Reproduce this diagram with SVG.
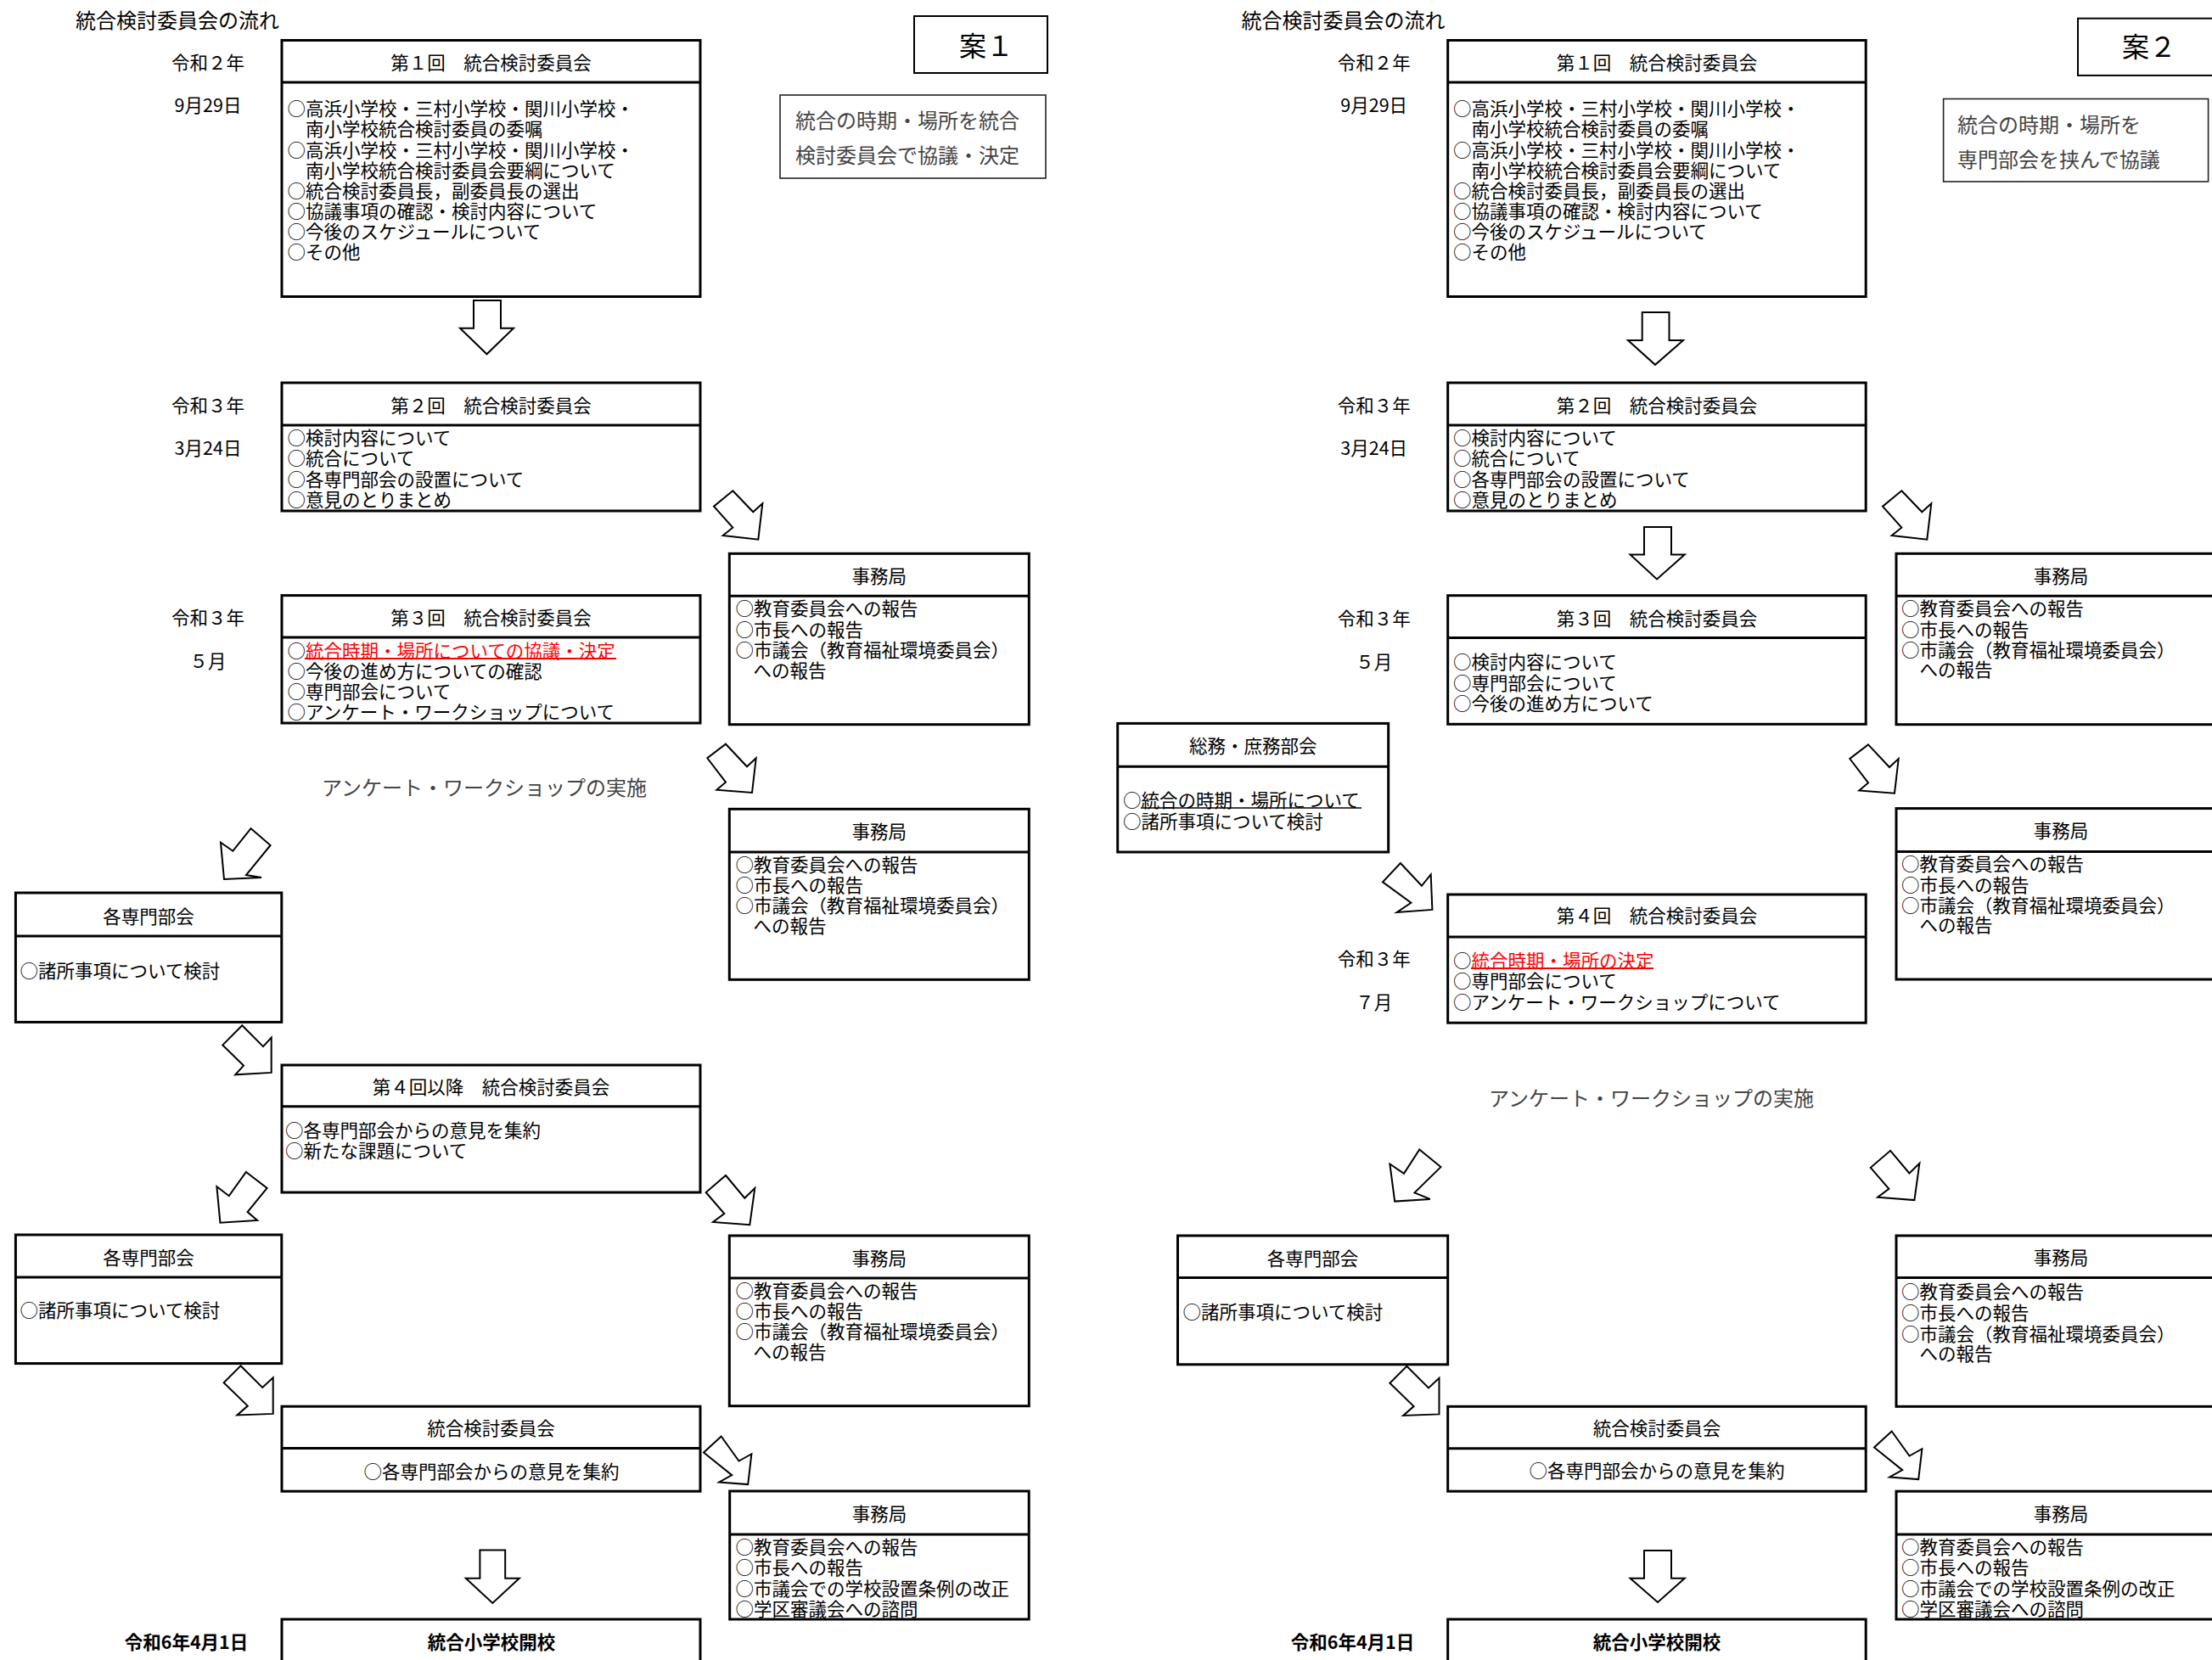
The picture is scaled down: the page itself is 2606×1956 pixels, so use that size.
<svg xmlns="http://www.w3.org/2000/svg" width="2606" height="1956" viewBox="0 0 2606 1956">
<style>
text{font-family:"Noto Sans CJK JP","Noto Sans CJK SC",sans-serif;dominant-baseline:central;fill:#000;font-size:21.5px}
tspan{dominant-baseline:central}
.bx{fill:#fff;stroke:#000;stroke-width:3}
.ln{stroke:#000;stroke-width:3}
.nb{fill:#fff;stroke:#222;stroke-width:1.6}
.ar{fill:#fff;stroke:#000;stroke-width:2;stroke-linejoin:miter}
.c{text-anchor:middle}
.ti{font-size:24px}
.g{font-size:24px;fill:#444}
.an{font-size:32px}
.b{font-weight:bold}
.r{fill:#f00}
.ur{stroke:#f00;stroke-width:2}
.uk{stroke:#000;stroke-width:1.6}
</style>
<rect x="0" y="0" width="2606" height="1956" fill="#fff"/>

<!-- ============ 案1 ============ -->
<g id="labels1">
<text class="ti" x="89" y="22">統合検討委員会の流れ</text>
<text class="c" x="245" y="72">令和２年</text>
<text class="c" x="245" y="122">9月29日</text>
<text class="c" x="245" y="476">令和３年</text>
<text class="c" x="245" y="526">3月24日</text>
<text class="c" x="245" y="726">令和３年</text>
<text class="c" x="245" y="777">５月</text>
<text class="g" x="379" y="926">アンケート・ワークショップの実施</text>
<text class="c b" x="219.5" y="1933">令和6年4月1日</text>
</g>
<g id="an1">
<rect x="1077" y="19" width="157" height="67" fill="#fff" stroke="#000" stroke-width="2"/>
<text class="an" x="1130" y="52">案１</text>
</g>
<g id="note1">
<rect class="nb" x="919" y="112" width="313" height="98"/>
<text class="g"><tspan x="937" y="140">統合の時期・場所を統合</tspan><tspan x="937" y="181">検討委員会で協議・決定</tspan></text>
</g>
<g id="c1-1">
<rect class="bx" x="332" y="47.5" width="493" height="302"/>
<line class="ln" x1="332" y1="97" x2="825" y2="97"/>
<text class="c" x="578.5" y="72">第１回　統合検討委員会</text>
<text><tspan x="338.5" y="125.7">○高浜小学校・三村小学校・関川小学校・</tspan><tspan x="360" y="149.5">南小学校統合検討委員の委嘱</tspan><tspan x="338.5" y="174.8">○高浜小学校・三村小学校・関川小学校・</tspan><tspan x="360" y="198.5">南小学校統合検討委員会要綱について</tspan><tspan x="338.5" y="222.6">○統合検討委員長，副委員長の選出</tspan><tspan x="338.5" y="246.7">○協議事項の確認・検討内容について</tspan><tspan x="338.5" y="271.2">○今後のスケジュールについて</tspan><tspan x="338.5" y="295">○その他</tspan></text>
</g>
<g id="c1-2">
<rect class="bx" x="332" y="451" width="493" height="151"/>
<line class="ln" x1="332" y1="501" x2="825" y2="501"/>
<text class="c" x="578.5" y="476">第２回　統合検討委員会</text>
<text><tspan x="338.5" y="514">○検討内容について</tspan><tspan x="338.5" y="538">○統合について</tspan><tspan x="338.5" y="563">○各専門部会の設置について</tspan><tspan x="338.5" y="587">○意見のとりまとめ</tspan></text>
</g>
<g id="c1-3">
<rect class="bx" x="332" y="701.6" width="493" height="150.4"/>
<line class="ln" x1="332" y1="751" x2="825" y2="751"/>
<text class="c" x="578.5" y="726">第３回　統合検討委員会</text>
<text><tspan x="338.5" y="764.6">○</tspan><tspan class="r">統合時期・場所についての協議・決定</tspan><tspan x="338.5" y="788.8">○今後の進め方についての確認</tspan><tspan x="338.5" y="813">○専門部会について</tspan><tspan x="338.5" y="837">○アンケート・ワークショップについて</tspan></text>
<line class="ur" x1="359" y1="776" x2="726" y2="776"/>
</g>
<g id="j1-1">
<rect class="bx" x="859.3" y="652.3" width="353" height="201.4"/>
<line class="ln" x1="859.3" y1="702.3" x2="1212.3" y2="702.3"/>
<text class="c" x="1035.8" y="677.3">事務局</text>
<text><tspan x="866.5" y="715">○教育委員会への報告</tspan><tspan x="866.5" y="740">○市長への報告</tspan><tspan x="866.5" y="764">○市議会（教育福祉環境委員会）</tspan><tspan x="887.5" y="788.3">への報告</tspan></text>
</g>
<g id="j1-2">
<rect class="bx" x="859.3" y="953.3" width="353" height="201"/>
<line class="ln" x1="859.3" y1="1004" x2="1212.3" y2="1004"/>
<text class="c" x="1035.8" y="978.3">事務局</text>
<text><tspan x="866.5" y="1016.7">○教育委員会への報告</tspan><tspan x="866.5" y="1040.5">○市長への報告</tspan><tspan x="866.5" y="1064.5">○市議会（教育福祉環境委員会）</tspan><tspan x="887.5" y="1088.5">への報告</tspan></text>
</g>
<g id="s1-1">
<rect class="bx" x="18.4" y="1052" width="313.4" height="152.4"/>
<line class="ln" x1="18.4" y1="1103" x2="331.8" y2="1103"/>
<text class="c" x="175" y="1078.5">各専門部会</text>
<text x="23.5" y="1142">○諸所事項について検討</text>
</g>
<g id="c1-4">
<rect class="bx" x="332" y="1255" width="493" height="150"/>
<line class="ln" x1="332" y1="1303.7" x2="825" y2="1303.7"/>
<text class="c" x="578.5" y="1279">第４回以降　統合検討委員会</text>
<text><tspan x="336" y="1330.3">○各専門部会からの意見を集約</tspan><tspan x="336" y="1353.5">○新たな課題について</tspan></text>
</g>
<g id="s1-2">
<rect class="bx" x="18.4" y="1455" width="313.4" height="151.6"/>
<line class="ln" x1="18.4" y1="1505" x2="331.8" y2="1505"/>
<text class="c" x="175" y="1480.5">各専門部会</text>
<text x="23.5" y="1542">○諸所事項について検討</text>
</g>
<g id="j1-3">
<rect class="bx" x="859.3" y="1456" width="353" height="200.7"/>
<line class="ln" x1="859.3" y1="1506" x2="1212.3" y2="1506"/>
<text class="c" x="1035.8" y="1481.7">事務局</text>
<text><tspan x="866.5" y="1519.3">○教育委員会への報告</tspan><tspan x="866.5" y="1543.3">○市長への報告</tspan><tspan x="866.5" y="1567.3">○市議会（教育福祉環境委員会）</tspan><tspan x="887.5" y="1591.3">への報告</tspan></text>
</g>
<g id="c1-5">
<rect class="bx" x="332" y="1657.2" width="493" height="100"/>
<line class="ln" x1="332" y1="1706.5" x2="825" y2="1706.5"/>
<text class="c" x="578.5" y="1681.5">統合検討委員会</text>
<text class="c" x="579" y="1732.5">○各専門部会からの意見を集約</text>
</g>
<g id="j1-4">
<rect class="bx" x="859.7" y="1757" width="352.5" height="151"/>
<line class="ln" x1="859.7" y1="1808" x2="1212.2" y2="1808"/>
<text class="c" x="1036" y="1782.4">事務局</text>
<text><tspan x="866.5" y="1820.7">○教育委員会への報告</tspan><tspan x="866.5" y="1844.7">○市長への報告</tspan><tspan x="866.5" y="1869.7">○市議会での学校設置条例の改正</tspan><tspan x="866.5" y="1894">○学区審議会への諮問</tspan></text>
</g>
<g id="o1">
<rect class="bx" x="332" y="1908" width="493" height="80"/>
<text class="c b" x="579" y="1933">統合小学校開校</text>
</g>

<!-- ============ 案2 ============ -->
<g id="labels2">
<text class="ti" x="1462.4" y="22">統合検討委員会の流れ</text>
<text class="c" x="1618.7" y="72">令和２年</text>
<text class="c" x="1618.7" y="122">9月29日</text>
<text class="c" x="1618.7" y="476">令和３年</text>
<text class="c" x="1618.7" y="526">3月24日</text>
<text class="c" x="1618.7" y="727">令和３年</text>
<text class="c" x="1618.7" y="778.4">５月</text>
<text class="c" x="1618.7" y="1128.5">令和３年</text>
<text class="c" x="1618.7" y="1179.8">７月</text>
<text class="g" x="1754" y="1292.8">アンケート・ワークショップの実施</text>
<text class="c b" x="1593.5" y="1933">令和6年4月1日</text>
</g>
<g id="an2">
<rect x="2448" y="21.7" width="180" height="67.2" fill="#fff" stroke="#000" stroke-width="2"/>
<text class="an" x="2500" y="53">案２</text>
</g>
<g id="note2">
<rect class="nb" x="2289.6" y="116.5" width="312" height="97.5"/>
<text class="g"><tspan x="2306" y="145.4">統合の時期・場所を</tspan><tspan x="2306" y="185.7">専門部会を挟んで協議</tspan></text>
</g>
<g id="c2-1">
<rect class="bx" x="1705.7" y="47.5" width="492.5" height="302"/>
<line class="ln" x1="1705.7" y1="97" x2="2198.2" y2="97"/>
<text class="c" x="1952" y="72">第１回　統合検討委員会</text>
<text><tspan x="1712" y="125.7">○高浜小学校・三村小学校・関川小学校・</tspan><tspan x="1733.5" y="149.5">南小学校統合検討委員の委嘱</tspan><tspan x="1712" y="174.8">○高浜小学校・三村小学校・関川小学校・</tspan><tspan x="1733.5" y="198.5">南小学校統合検討委員会要綱について</tspan><tspan x="1712" y="222.6">○統合検討委員長，副委員長の選出</tspan><tspan x="1712" y="246.7">○協議事項の確認・検討内容について</tspan><tspan x="1712" y="271.2">○今後のスケジュールについて</tspan><tspan x="1712" y="295">○その他</tspan></text>
</g>
<g id="c2-2">
<rect class="bx" x="1705.7" y="451" width="492.5" height="151"/>
<line class="ln" x1="1705.7" y1="501" x2="2198.2" y2="501"/>
<text class="c" x="1952" y="476">第２回　統合検討委員会</text>
<text><tspan x="1712" y="514">○検討内容について</tspan><tspan x="1712" y="538">○統合について</tspan><tspan x="1712" y="563">○各専門部会の設置について</tspan><tspan x="1712" y="587">○意見のとりまとめ</tspan></text>
</g>
<g id="c2-3">
<rect class="bx" x="1705.7" y="701.7" width="492.5" height="151.6"/>
<line class="ln" x1="1705.7" y1="751.6" x2="2198.2" y2="751.6"/>
<text class="c" x="1952" y="727">第３回　統合検討委員会</text>
<text><tspan x="1712" y="778.4">○検討内容について</tspan><tspan x="1712" y="803">○専門部会について</tspan><tspan x="1712" y="826.6">○今後の進め方について</tspan></text>
</g>
<g id="j2-1">
<rect class="bx" x="2234" y="652.3" width="390" height="201.4"/>
<line class="ln" x1="2234" y1="702.3" x2="2624" y2="702.3"/>
<text class="c" x="2428" y="677.3">事務局</text>
<text><tspan x="2240" y="715">○教育委員会への報告</tspan><tspan x="2240" y="739.6">○市長への報告</tspan><tspan x="2240" y="764">○市議会（教育福祉環境委員会）</tspan><tspan x="2261.5" y="787.3">への報告</tspan></text>
</g>
<g id="sm2">
<rect class="bx" x="1316.7" y="852.4" width="319" height="151.6"/>
<line class="ln" x1="1316.7" y1="903.3" x2="1635.7" y2="903.3"/>
<text class="c" x="1476.2" y="877.4">総務・庶務部会</text>
<text><tspan x="1323" y="941.2">○統合の時期・場所について</tspan><tspan x="1323" y="965.7">○諸所事項について検討</tspan></text>
<line class="uk" x1="1344" y1="952" x2="1604" y2="952"/>
</g>
<g id="j2-2">
<rect class="bx" x="2234" y="952.6" width="390" height="201.4"/>
<line class="ln" x1="2234" y1="1003.6" x2="2624" y2="1003.6"/>
<text class="c" x="2428" y="977">事務局</text>
<text><tspan x="2240" y="1015.7">○教育委員会への報告</tspan><tspan x="2240" y="1040.6">○市長への報告</tspan><tspan x="2240" y="1065">○市議会（教育福祉環境委員会）</tspan><tspan x="2261.5" y="1088.4">への報告</tspan></text>
</g>
<g id="c2-4">
<rect class="bx" x="1705.7" y="1054" width="492.5" height="151.2"/>
<line class="ln" x1="1705.7" y1="1104" x2="2198.2" y2="1104"/>
<text class="c" x="1952" y="1077.2">第４回　統合検討委員会</text>
<text><tspan x="1712" y="1130">○</tspan><tspan class="r">統合時期・場所の決定</tspan><tspan x="1712" y="1154.4">○専門部会について</tspan><tspan x="1712" y="1178.5">○アンケート・ワークショップについて</tspan></text>
<line class="ur" x1="1733" y1="1141" x2="1948" y2="1141"/>
</g>
<g id="s2-1">
<rect class="bx" x="1387.5" y="1456" width="318.2" height="151.8"/>
<line class="ln" x1="1387.5" y1="1505.6" x2="1705.7" y2="1505.6"/>
<text class="c" x="1546.6" y="1481.8">各専門部会</text>
<text x="1393.5" y="1544.8">○諸所事項について検討</text>
</g>
<g id="j2-3">
<rect class="bx" x="2234" y="1456" width="390" height="201.3"/>
<line class="ln" x1="2234" y1="1505.6" x2="2624" y2="1505.6"/>
<text class="c" x="2428" y="1480.9">事務局</text>
<text><tspan x="2240" y="1520">○教育委員会への報告</tspan><tspan x="2240" y="1544.8">○市長への報告</tspan><tspan x="2240" y="1569.5">○市議会（教育福祉環境委員会）</tspan><tspan x="2261.5" y="1592.9">への報告</tspan></text>
</g>
<g id="c2-5">
<rect class="bx" x="1705.7" y="1657.3" width="492.5" height="99.9"/>
<line class="ln" x1="1705.7" y1="1706.8" x2="2198.2" y2="1706.8"/>
<text class="c" x="1952" y="1681">統合検討委員会</text>
<text class="c" x="1952" y="1731.5">○各専門部会からの意見を集約</text>
</g>
<g id="j2-4">
<rect class="bx" x="2234" y="1757.2" width="390" height="150.8"/>
<line class="ln" x1="2234" y1="1808" x2="2624" y2="1808"/>
<text class="c" x="2428" y="1782">事務局</text>
<text><tspan x="2240" y="1820.6">○教育委員会への報告</tspan><tspan x="2240" y="1844.9">○市長への報告</tspan><tspan x="2240" y="1870">○市議会での学校設置条例の改正</tspan><tspan x="2240" y="1893.5">○学区審議会への諮問</tspan></text>
</g>
<g id="o2">
<rect class="bx" x="1705.7" y="1908" width="492.5" height="80"/>
<text class="c b" x="1952" y="1933">統合小学校開校</text>
</g>

<!-- ============ connectors ============ -->
<g id="connectors">
<polygon class="ar" points="558,354 590,354 590,386.7 605,386.7 573.5,417.3 542,386.7 558,386.7"/>
<polygon class="ar" points="863.3,578.3 887.3,603.3 898.3,593.3 893.3,635.7 851.7,631 863.3,621.7 841,596.7"/>
<polygon class="ar" points="855,876.7 880,903.3 890.7,893.3 886,934 844.3,930.7 855,921.7 833.3,893.3"/>
<polygon class="ar" points="295.6,976.2 318.6,996 290,1031 308,1034 264,1036 260,992.7 274.4,1002.7"/>
<polygon class="ar" points="285.3,1208.2 310,1233.1 319.7,1222.5 319.7,1263.9 277.2,1266.3 287,1255.6 262.3,1231.4"/>
<polygon class="ar" points="289.9,1381 314.6,1399.9 291.6,1428.1 303.1,1438 259.4,1440.7 255.4,1398.2 269.8,1409.2"/>
<polygon class="ar" points="855,1385 877.3,1411.7 889.3,1400 883.3,1443.3 840,1440 853.3,1430 831.7,1405"/>
<polygon class="ar" points="283.5,1609.3 309.2,1634.9 321.7,1623.3 321.7,1665.9 279.4,1667.5 291.8,1656.6 263.6,1629.2"/>
<polygon class="ar" points="849.7,1692.5 870.5,1721.5 885.4,1713.2 881.2,1749.1 847.2,1746.5 862.2,1738.1 829,1711.5"/>
<polygon class="ar" points="565.4,1826.4 595.2,1826.4 595.2,1859.7 611.8,1859.7 580.3,1889 548.8,1859.7 565.4,1859.7"/>
<polygon class="ar" points="1934.7,368 1966.5,368 1966.5,401 1983,401 1950,429.8 1918,401 1934.7,401"/>
<polygon class="ar" points="2240.3,578.3 2264.3,603.3 2275.3,593.3 2270.3,635.7 2228.7,631 2240.3,621.7 2218,596.7"/>
<polygon class="ar" points="1937,621 1969,621 1969,653.5 1984.7,653.5 1952,682.5 1920.6,653.5 1937,653.5"/>
<polygon class="ar" points="2201,877.4 2226,904 2236.7,894 2232,934.7 2190.3,931.4 2201,922.4 2179.3,894"/>
<polygon class="ar" points="1649.9,1017 1674.9,1043.8 1685.7,1030.4 1687.4,1071.9 1645.7,1075 1662.4,1063.8 1629,1039.3"/>
<polygon class="ar" points="1672.3,1354.4 1697.4,1375.1 1666.5,1405.3 1684.8,1412.9 1643.2,1415.6 1637.4,1371.5 1654,1382.8"/>
<polygon class="ar" points="2227.1,1355.8 2249.4,1382.5 2261.4,1370.8 2255.4,1414.1 2212.1,1410.8 2225.4,1400.8 2203.8,1375.8"/>
<polygon class="ar" points="1657.3,1609.8 1683,1635.4 1695.5,1623.8 1695.5,1666.4 1653.2,1668 1665.6,1657.1 1637.4,1629.7"/>
<polygon class="ar" points="2228.7,1686.5 2249.5,1715.5 2264.4,1707.2 2260.2,1743.1 2226.2,1740.5 2241.2,1732.1 2208,1705.5"/>
<polygon class="ar" points="1937,1827 1969,1827 1969,1859.8 1984.7,1859.8 1953,1888 1920.6,1859.8 1937,1859.8"/>
</g>
</svg>
